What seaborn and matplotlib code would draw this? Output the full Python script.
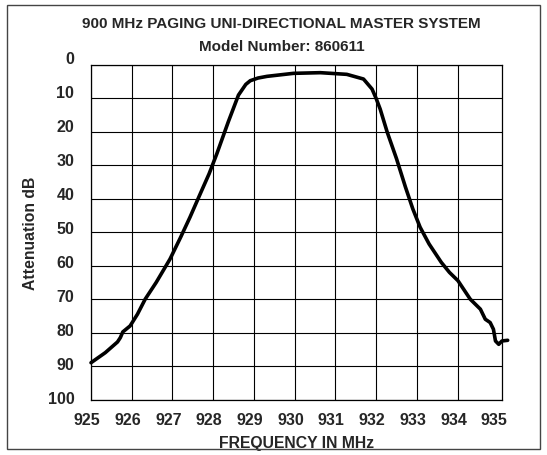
import matplotlib
matplotlib.use("Agg")
import matplotlib.pyplot as plt
import matplotlib.transforms as mtransforms
from matplotlib.patches import Rectangle
import pandas as pd
import seaborn as sns

# Filter response
freq_mhz = [925.0, 925.35, 925.65, 925.72, 925.78, 925.88, 925.96, 926.14, 926.33,
            926.6, 926.94, 927.2, 927.43, 927.7, 927.9, 928.09, 928.37, 928.62, 928.8,
            928.91, 929.1, 929.32, 929.97, 930.63, 931.28, 931.69, 931.9, 932.0, 932.1,
            932.27, 932.5, 932.72, 932.9, 933.08, 933.3, 933.6, 933.8, 934.01, 934.31,
            934.56, 934.68, 934.8, 934.88, 934.93, 935.01, 935.09, 935.23]
atten_db = [89, 86, 82.8, 81.5, 79.8, 78.8, 78, 74.5, 70,
            65, 58, 51.5, 45.5, 38, 32.5, 26.5, 17, 9, 5.8,
            4.7, 3.9, 3.4, 2.5, 2.3, 2.8, 4.2, 7.2, 10, 13.2,
            20, 28, 36.5, 43, 48.5, 53.5, 59, 62, 64.5, 70,
            73, 76, 77, 79, 82.5, 83.5, 82.5, 82.3]

x_ticks = list(range(925, 936))
y_ticks = list(range(0, 101, 10))

title_1 = "900 MHz PAGING UNI-DIRECTIONAL MASTER SYSTEM"
title_2 = "Model Number: 860611"

df = pd.DataFrame({"Frequency": freq_mhz, "Attenuation": atten_db})

sns.set_style("white")
plt.rcParams["font.family"] = ["Liberation Sans", "DejaVu Sans"]
plt.rcParams["font.weight"] = "bold"

fig = plt.figure(figsize=(5.47, 4.56), dpi=100)
ax = fig.add_axes([0.1664, 0.1217, 0.7513, 0.7336])

sns.lineplot(data=df, x="Frequency", y="Attenuation", sort=False, color="black",
             linewidth=2.6, ax=ax, clip_on=False, zorder=5)

ax.set_xlim(925, 935.09)
ax.set_ylim(100, 0)
ax.set_xticks(x_ticks)
ax.set_yticks(y_ticks)
ax.set_xticklabels([str(t) for t in x_ticks], fontsize=11.5, fontweight="bold")
ax.set_yticklabels([str(t) for t in y_ticks], fontsize=11.5, fontweight="bold")
ax.tick_params(axis="both", length=0, pad=9)
ax.tick_params(axis="y", pad=12)

ax.grid(True, color="black", linewidth=0.8)
# the right frame edge stands in for 935, no separate grid line there
ax.xaxis.get_gridlines()[-1].set_visible(False)
for s in ax.spines.values():
    s.set_color("black")
    s.set_linewidth(0.9)

# labels in the original sit slightly off their grid lines
for t, lab in zip(y_ticks, ax.get_yticklabels()):
    dy = (8 - 5 * t / 100) / 100
    lab.set_transform(lab.get_transform() + mtransforms.ScaledTranslation(0, dy, fig.dpi_scale_trans))
for lab in ax.get_xticklabels():
    lab.set_transform(lab.get_transform() + mtransforms.ScaledTranslation(-4 / 100, 0, fig.dpi_scale_trans))

ax.set_xlabel("FREQUENCY IN MHz", fontsize=11.3, fontweight="bold")
ax.set_ylabel("Attenuation dB", fontsize=11.3, fontweight="bold")
ax.xaxis.set_label_coords(0.5, -0.105)
ax.yaxis.set_label_coords(-0.13, 0.5)

fig.text(0.515, 1 - 24 / 456, title_1, ha="center", va="center", fontsize=11, fontweight="bold")
fig.text(0.515, 1 - 47 / 456, title_2, ha="center", va="center", fontsize=11, fontweight="bold")

fig.patches.append(Rectangle((7 / 547, 6 / 456), 533 / 547, 444 / 456, transform=fig.transFigure,
                             fill=False, edgecolor="#444444", linewidth=1.0))

fig.savefig("out.png", dpi=100)
